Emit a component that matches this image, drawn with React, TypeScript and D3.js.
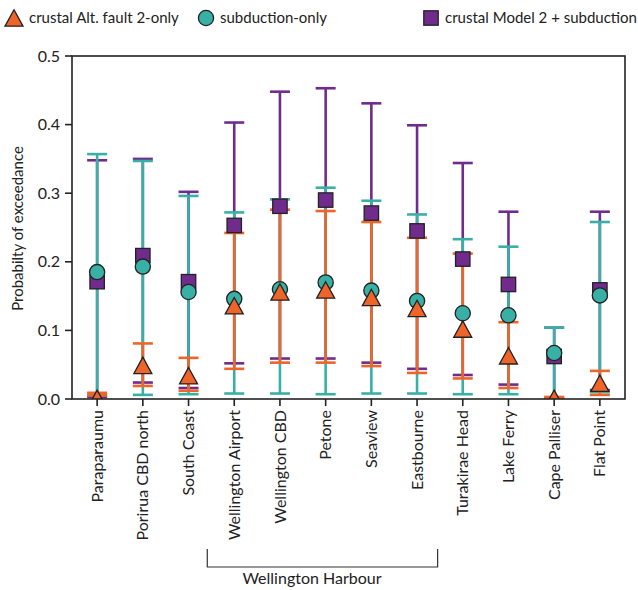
import React from "react";
import * as d3 from "d3";

// Sites along the coast, in plotting order
const sites = [
  "Paraparaumu",
  "Porirua CBD north",
  "South Coast",
  "Wellington Airport",
  "Wellington CBD",
  "Petone",
  "Seaview",
  "Eastbourne",
  "Turakirae Head",
  "Lake Ferry",
  "Cape Palliser",
  "Flat Point",
];

// crustal Alt. fault 2-only
const crustalMed = [0.001, 0.049, 0.034, 0.136, 0.156, 0.159, 0.148, 0.132, 0.102, 0.063, 0.001, 0.023];
const crustalLo = [0.005, 0.019, 0.012, 0.044, 0.053, 0.053, 0.048, 0.038, 0.030, 0.016, 0.001, 0.006];
const crustalHi = [0.009, 0.081, 0.060, 0.242, 0.276, 0.274, 0.258, 0.235, 0.212, 0.112, 0.003, 0.041];

// subduction-only
const subMed = [0.185, 0.193, 0.156, 0.146, 0.160, 0.170, 0.158, 0.143, 0.125, 0.122, 0.067, 0.151];
const subLo = [0.007, 0.006, 0.007, 0.008, 0.008, 0.007, 0.008, 0.008, 0.007, 0.007, 0.001, 0.010];
const subHi = [0.357, 0.347, 0.296, 0.272, 0.291, 0.308, 0.289, 0.269, 0.233, 0.222, 0.104, 0.258];

// crustal Model 2 + subduction
const combMed = [0.171, 0.209, 0.171, 0.253, 0.281, 0.290, 0.271, 0.245, 0.204, 0.167, 0.062, 0.159];
const combLo = [0.003, 0.024, 0.016, 0.052, 0.059, 0.059, 0.053, 0.044, 0.035, 0.021, 0.001, 0.013];
const combHi = [0.348, 0.350, 0.302, 0.403, 0.448, 0.453, 0.431, 0.399, 0.344, 0.273, 0.104, 0.273];

const yTicks = [0.0, 0.1, 0.2, 0.3, 0.4, 0.5];

const ORANGE = "#ee6429";
const TEAL = "#38b0a5";
const PURPLE = "#702b8d";
const EDGE = "#222222";
const FONT = "Lato, 'Open Sans', sans-serif";

const W = 638;
const H = 590;
const left = 72;
const right = 625;
const top = 56;
const bottom = 399;

const x = d3.scaleLinear().domain([-0.55, sites.length - 0.45]).range([left, right]);
const y = d3.scaleLinear().domain([0, 0.5]).range([bottom, top]);

type Series = { key: string; label: string; color: string; med: number[]; lo: number[]; hi: number[]; shape: string };

const crustal: Series = { key: "c", label: "crustal Alt. fault 2-only", color: ORANGE, med: crustalMed, lo: crustalLo, hi: crustalHi, shape: "tri" };
const sub: Series = { key: "s", label: "subduction-only", color: TEAL, med: subMed, lo: subLo, hi: subHi, shape: "circle" };
const comb: Series = { key: "m", label: "crustal Model 2 + subduction", color: PURPLE, med: combMed, lo: combLo, hi: combHi, shape: "square" };

// bars are layered purple, teal, orange; markers square, circle, triangle
const barOrder = [comb, sub, crustal];

const CAP = 10;

function Marker({ shape, cx, cy, color }: { shape: string; cx: number; cy: number; color: string }) {
  if (shape === "circle") {
    return <circle cx={cx} cy={cy} r={7.6} fill={color} stroke={EDGE} strokeWidth={1.3} />;
  }
  if (shape === "square") {
    const s = 7.2;
    return <rect x={cx - s} y={cy - s} width={2 * s} height={2 * s} fill={color} stroke={EDGE} strokeWidth={1.3} />;
  }
  const hw = 9;
  const hh = 8.2;
  const p = `M${cx},${cy - hh}L${cx + hw},${cy + hh}L${cx - hw},${cy + hh}Z`;
  return <path d={p} fill={color} stroke={EDGE} strokeWidth={1.3} strokeLinejoin="miter" />;
}

export default function App() {
  return (
    <svg width={W} height={H} style={{ position: "absolute", left: 0, top: 0, background: "#fff" }} fontFamily={FONT}>
      <defs>
        <clipPath id="plotArea">
          <rect x={left} y={top} width={right - left} height={bottom - top} />
        </clipPath>
      </defs>

      {/* error bars */}
      <g clipPath="url(#plotArea)">
        {barOrder.map((s) => (
          <g key={s.key} stroke={s.color} fill="none">
            {sites.map((_, i) => {
              const cx = x(i);
              return (
                <g key={i}>
                  <line x1={cx} x2={cx} y1={y(s.lo[i])} y2={y(s.hi[i])} strokeWidth={2.6} />
                  <line x1={cx - CAP} x2={cx + CAP} y1={y(s.lo[i])} y2={y(s.lo[i])} strokeWidth={2.6} />
                  <line x1={cx - CAP} x2={cx + CAP} y1={y(s.hi[i])} y2={y(s.hi[i])} strokeWidth={2.6} />
                </g>
              );
            })}
          </g>
        ))}
        {barOrder.map((s) => (
          <g key={s.key + "m"}>
            {sites.map((_, i) => (
              <Marker key={i} shape={s.shape} cx={x(i)} cy={y(s.med[i])} color={s.color} />
            ))}
          </g>
        ))}
      </g>

      {/* frame */}
      <rect x={left} y={top} width={right - left} height={bottom - top} fill="none" stroke={EDGE} strokeWidth={1.6} />

      {/* y axis */}
      {yTicks.map((t) => (
        <g key={t}>
          <line x1={left - 7} x2={left} y1={y(t)} y2={y(t)} stroke={EDGE} strokeWidth={1.6} />
          <text x={left - 12} y={y(t)} dy="0.35em" textAnchor="end" fontSize={16} fill="#222">
            {d3.format(".1f")(t)}
          </text>
        </g>
      ))}
      <text
        transform={`translate(23,${(top + bottom) / 2 + 1}) rotate(-90)`}
        textAnchor="middle"
        fontSize={15}
        fill="#222"
      >
        Probabilty of exceedance
      </text>

      {/* x axis */}
      {sites.map((s, i) => (
        <g key={s}>
          <line x1={x(i)} x2={x(i)} y1={bottom} y2={bottom + 7} stroke={EDGE} strokeWidth={1.6} />
          <text
            transform={`translate(${x(i)},${bottom + 11}) rotate(-90)`}
            textAnchor="end"
            dy="0.35em"
            fontSize={16}
            fill="#222"
          >
            {s}
          </text>
        </g>
      ))}

      {/* harbour bracket */}
      <path
        d={`M${x(2.41)},549V567H${x(7.45)}V549`}
        fill="none"
        stroke="#333"
        strokeWidth={1.2}
      />
      <text x={312} y={584} textAnchor="middle" fontSize={16} fill="#222">
        Wellington Harbour
      </text>

      {/* legend */}
      {[
        { s: crustal, mx: 14, tx: 29 },
        { s: sub, mx: 206, tx: 220 },
        { s: comb, mx: 431, tx: 445 },
      ].map(({ s, mx, tx }) => (
        <g key={s.key + "lg"}>
          <Marker shape={s.shape} cx={mx} cy={18} color={s.color} />
          <text x={tx} y={18} dy="0.35em" fontSize={15} fill="#222">
            {s.label}
          </text>
        </g>
      ))}
    </svg>
  );
}
